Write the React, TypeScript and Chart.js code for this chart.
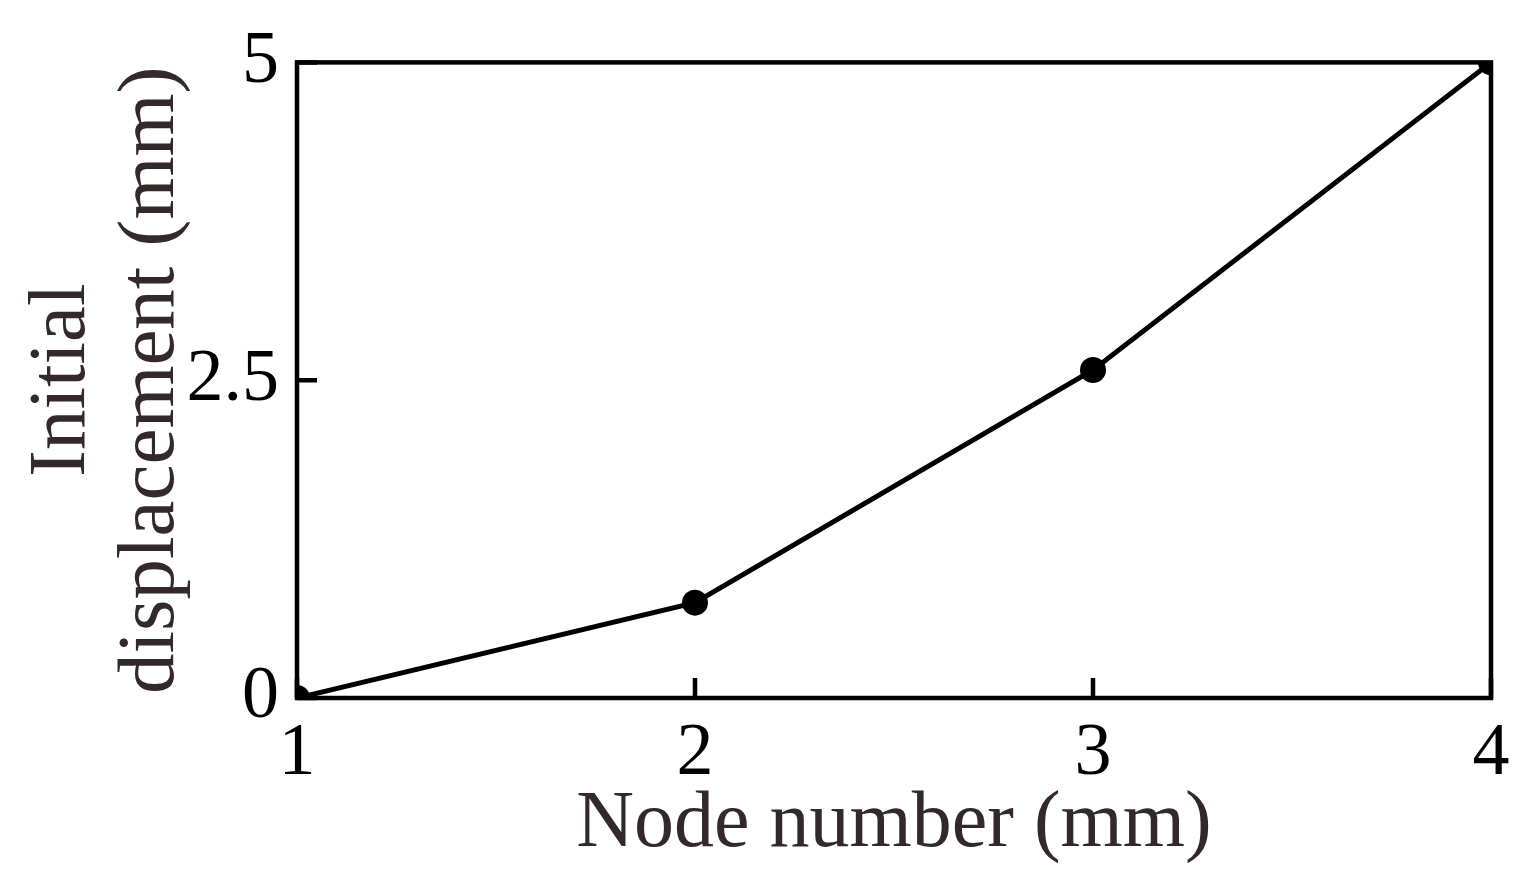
import React, { useEffect, useRef } from "react";
import { Chart, registerables } from "chart.js";

Chart.register(...registerables);

const nodeNumbers = [1, 2, 3, 4];
const displacements = [0, 0.75, 2.58, 5];
const xTickValues = [1, 2, 3, 4];
const yTickValues = [0, 2.5, 5];
const xTitle = "Node number (mm)";
const yTitle = ["Initial", "displacement (mm)"];

const FONT = '"Liberation Serif", "Times New Roman", serif';
const TITLE_COLOR = "#33292a";

const frameAndTicks = {
  id: "frameAndTicks",
  afterDatasetsDraw(chart: any) {
    const { ctx, chartArea, scales } = chart;
    const { left, right, top, bottom } = chartArea;
    const x = scales.x;
    const y = scales.y;
    ctx.save();
    ctx.strokeStyle = "#000";
    ctx.lineWidth = 4.5;
    ctx.strokeRect(left, top, right - left, bottom - top);
    ctx.beginPath();
    xTickValues.forEach((v) => {
      const px = x.getPixelForValue(v);
      ctx.moveTo(px, bottom);
      ctx.lineTo(px, bottom - 20);
    });
    yTickValues.forEach((v) => {
      const py = y.getPixelForValue(v);
      ctx.moveTo(left, py);
      ctx.lineTo(left + 20, py);
    });
    ctx.stroke();
    ctx.restore();
  },
};

export default function App() {
  const canvasRef = useRef<HTMLCanvasElement | null>(null);

  useEffect(() => {
    if (!canvasRef.current) return;
    const chart = new Chart(canvasRef.current, {
      type: "line",
      data: {
        datasets: [
          {
            data: nodeNumbers.map((n, i) => ({ x: n, y: displacements[i] })),
            borderColor: "#000",
            borderWidth: 5,
            pointRadius: 13,
            pointBackgroundColor: "#000",
            pointBorderWidth: 0,
            tension: 0,
            clip: 0,
          },
        ],
      },
      options: {
        animation: false,
        responsive: true,
        maintainAspectRatio: false,
        layout: { padding: { top: 62, right: 48, left: 0, bottom: 0 } },
        plugins: {
          legend: { display: false },
          tooltip: { enabled: false },
        },
        scales: {
          x: {
            type: "linear",
            min: 1,
            max: 4,
            grid: { display: false, drawTicks: false },
            border: { display: false },
            afterBuildTicks: (scale: any) => {
              scale.ticks = xTickValues.map((v) => ({ value: v }));
            },
            afterFit: (scale: any) => {
              scale.height = 192;
            },
            ticks: {
              color: "#000",
              padding: 12,
              maxRotation: 0,
              font: { family: FONT, size: 74, lineHeight: 1.2 },
              callback: (v: any) => String(v),
            },
            title: {
              display: true,
              text: xTitle,
              color: TITLE_COLOR,
              font: { family: FONT, size: 80, lineHeight: 1.1 },
              padding: { top: 0, bottom: 21 },
            },
          },
          y: {
            type: "linear",
            min: 0,
            max: 5,
            grid: { display: false, drawTicks: false },
            border: { display: false },
            afterBuildTicks: (scale: any) => {
              scale.ticks = yTickValues.map((v) => ({ value: v }));
            },
            afterFit: (scale: any) => {
              scale.width = 297;
            },
            ticks: {
              color: "#000",
              padding: 18,
              font: { family: FONT, size: 74, lineHeight: 1.2 },
              callback: (v: any) => String(v),
            },
            title: {
              display: true,
              text: yTitle,
              color: TITLE_COLOR,
              font: { family: FONT, size: 81, lineHeight: 1.09 },
              padding: { top: 19, bottom: 0 },
            },
          },
        },
      },
      plugins: [frameAndTicks],
    });
    return () => chart.destroy();
  }, []);

  return (
    <div style={{ position: "fixed", left: 0, top: 0, width: 1539, height: 890, background: "#fff" }}>
      <canvas ref={canvasRef} />
    </div>
  );
}
